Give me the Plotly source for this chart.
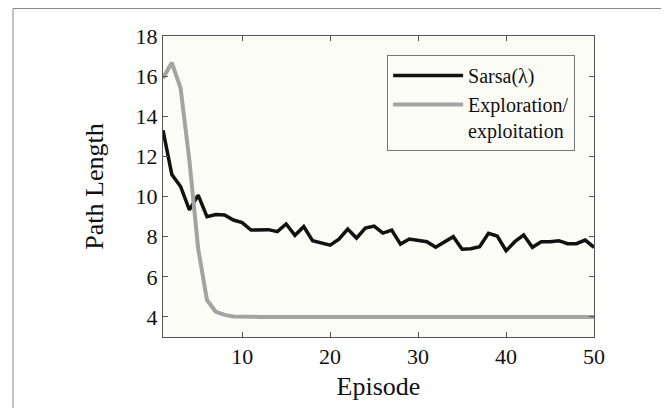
import plotly.graph_objects as go

episodes = list(range(1, 51))
sarsa = [13.3, 11.1, 10.5, 9.33, 10.07, 9.0, 9.1, 9.08, 8.83, 8.7,
         8.33, 8.33, 8.35, 8.25, 8.63, 8.07, 8.5, 7.8, 7.67, 7.58,
         7.88, 8.38, 7.93, 8.43, 8.53, 8.18, 8.33, 7.63, 7.88, 7.8,
         7.75, 7.47, 7.75, 8.0, 7.37, 7.4, 7.5, 8.17, 8.03, 7.3,
         7.75, 8.08, 7.47, 7.75, 7.75, 7.8, 7.65, 7.65, 7.83, 7.47]
explore = [15.9, 16.67, 15.4, 11.8, 7.4, 4.84, 4.26, 4.1, 4.02, 4.0,
           4.0, 4.0, 4.0, 4.0, 4.0, 4.0, 4.0, 4.0, 4.0, 4.0,
           4.0, 4.0, 4.0, 4.0, 4.0, 4.0, 4.0, 4.0, 4.0, 4.0,
           4.0, 4.0, 4.0, 4.0, 4.0, 4.0, 4.0, 4.0, 4.0, 4.0,
           4.0, 4.0, 4.0, 4.0, 4.0, 4.0, 4.0, 4.0, 4.0, 4.0]
x_ticks = [10, 20, 30, 40, 50]
y_ticks = [4, 6, 8, 10, 12, 14, 16, 18]

FONT = "Liberation Serif, Times New Roman, serif"

fig = go.Figure()
fig.add_trace(go.Scatter(x=episodes, y=sarsa, mode="lines", name="Sarsa(λ)",
                         line=dict(color="#111111", width=3.5)))
fig.add_trace(go.Scatter(x=episodes, y=explore, mode="lines",
                         name="Exploration/<br>exploitation",
                         line=dict(color="#a3a3a3", width=4)))

axis_common = dict(showgrid=False, zeroline=False, showline=True, linecolor="#555555",
                   linewidth=1, mirror="ticks", ticks="inside", ticklen=5,
                   tickcolor="#555555", tickfont=dict(family=FONT, size=22, color="#111111"))

# the page body adds an 8px margin, so the figure is 661x400 drawn at (8, 8)
fig.update_layout(
    width=661, height=400,
    margin=dict(l=155, r=75, t=28, b=71),
    paper_bgcolor="white", plot_bgcolor="#fcfcf7",
    font=dict(family=FONT, color="#111111"),
    xaxis=dict(range=[1, 50], tickvals=x_ticks,
               title=dict(text="Episode", font=dict(family=FONT, size=26), standoff=8),
               **axis_common),
    yaxis=dict(range=[3, 18], tickvals=y_ticks,
               title=dict(text="Path Length", font=dict(family=FONT, size=26), standoff=24),
               **axis_common),
    showlegend=True,
    legend=dict(x=0.52, y=0.937, xanchor="left", yanchor="top",
                bgcolor="#fcfcf7", bordercolor="#777777", borderwidth=1,
                font=dict(family=FONT, size=20, color="#111111"),
                itemwidth=70, valign="top", tracegroupgap=0),
)

# outer frame around the figure
fig.add_shape(type="rect", xref="paper", yref="paper",
              x0=(5 - 155) / 431, x1=(659.5 - 155) / 431,
              y0=-0.5, y1=(329 - 0.5) / 301,
              line=dict(color="#888888", width=1), fillcolor="rgba(0,0,0,0)", layer="below")

fig.write_html("out.html")
